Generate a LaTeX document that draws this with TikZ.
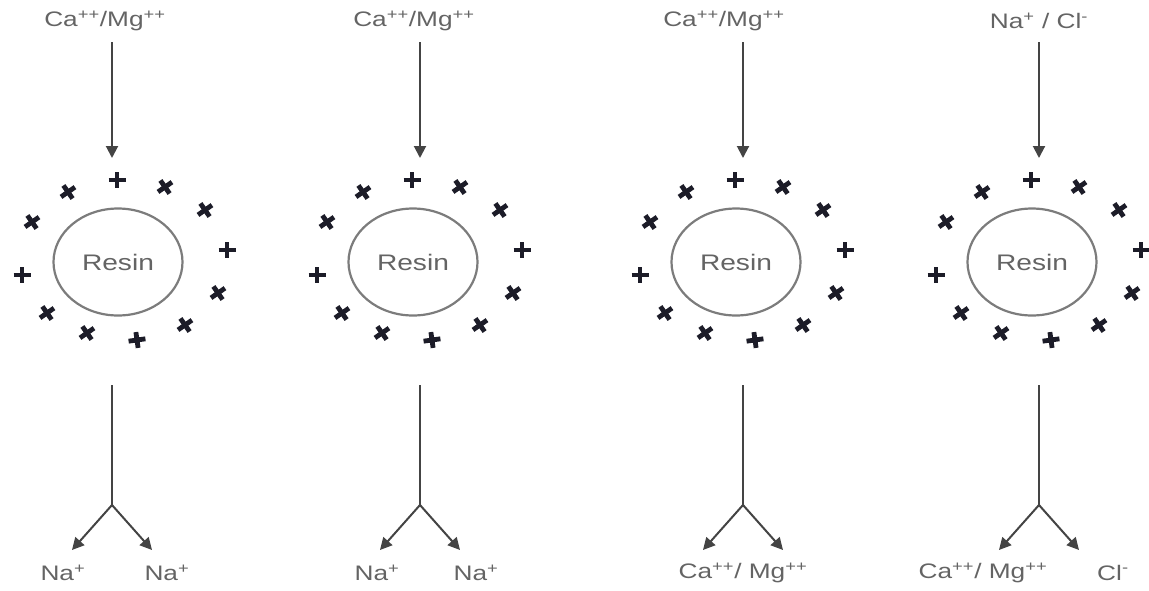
\documentclass[tikz,border=0pt]{standalone}
\usepackage{fontspec}
\setmainfont{Liberation Sans}
\usetikzlibrary{arrows.meta,shapes.geometric}
\definecolor{txt}{HTML}{646464}
\definecolor{ln}{HTML}{444444}
\definecolor{ring}{HTML}{7C7C7C}
\definecolor{ion}{HTML}{1C1C28}
\newcommand{\stretchtxt}[1]{\scalebox{1.25}[1]{#1}}
\tikzset{
  lbl/.style={text=txt, font=\fontsize{21}{24}\selectfont, inner sep=0pt},
  resin/.style={draw=ring, line width=2.2pt, ellipse, minimum width=129pt, minimum height=107pt, inner sep=0pt, text=txt, font=\fontsize{22.5}{26}\selectfont},
  conn/.style={draw=ln, line width=2pt},
  arr/.style={conn, -{Triangle[length=12pt,width=12pt]}},
  ionplus/.pic={\draw[ion, line width=4.8pt] (-8.5,0) -- (8.5,0) (0,-8) -- (0,8);}
}
\begin{document}
\begin{tikzpicture}[x=1pt,y=-1pt]
\useasboundingbox (0,0) rectangle (1149,590);
% top labels
\node[lbl] (t1) at (105,21) {\stretchtxt{Ca\textsuperscript{++}/Mg\textsuperscript{++}}};
\node[lbl] (t2) at (414,21) {\stretchtxt{Ca\textsuperscript{++}/Mg\textsuperscript{++}}};
\node[lbl] (t3) at (724,21) {\stretchtxt{Ca\textsuperscript{++}/Mg\textsuperscript{++}}};
\node[lbl] (t4) at (1039,21) {\stretchtxt{Na\textsuperscript{+} / Cl\textsuperscript{-}}};
% bottom labels
\node[lbl] (n1a) at (63,573) {\stretchtxt{Na\textsuperscript{+}}};
\node[lbl] (n1b) at (167,573) {\stretchtxt{Na\textsuperscript{+}}};
\node[lbl] (n2a) at (377,573) {\stretchtxt{Na\textsuperscript{+}}};
\node[lbl] (n2b) at (476,573) {\stretchtxt{Na\textsuperscript{+}}};
\node[lbl] (n3) at (743,573) {\stretchtxt{Ca\textsuperscript{++}/ Mg\textsuperscript{++}}};
\node[lbl] (n4a) at (983,573) {\stretchtxt{Ca\textsuperscript{++}/ Mg\textsuperscript{++}}};
\node[lbl] (n4b) at (1113,573) {\stretchtxt{Cl\textsuperscript{-}}};
% panels
\foreach \cx/\ax/\n in {118/112/1, 413/420/2, 736/743/3, 1032/1039/4} {
  \node[resin] (r\n) at (\cx,262) {\stretchtxt{Resin}};
  \foreach \dx/\dy/\rr in {-1/-82/0, 47/-75/35, 87/-52/35, 109/-12/0, 100/31/35, 67/63/35,
                           19/78/8, -31/71/35, -71/51/35, -96/13/0, -86/-40/35, -50/-70/35}
    \pic[rotate=\rr] at (\cx+\dx,262+\dy) {ionplus};
  \coordinate (s\n) at (\ax,42);
  \coordinate (e\n) at (\ax,158);
  \draw[arr] (s\n) -- (e\n);
  \coordinate (b\n) at (\ax,385);
  \coordinate (j\n) at (\ax,505);
  \coordinate (L\n) at (\ax-40,550);
  \coordinate (R\n) at (\ax+40,550);
  \draw[conn] (b\n) -- (j\n);
  \draw[arr] (j\n) -- (L\n);
  \draw[arr] (j\n) -- (R\n);
}
\end{tikzpicture}
\end{document}
